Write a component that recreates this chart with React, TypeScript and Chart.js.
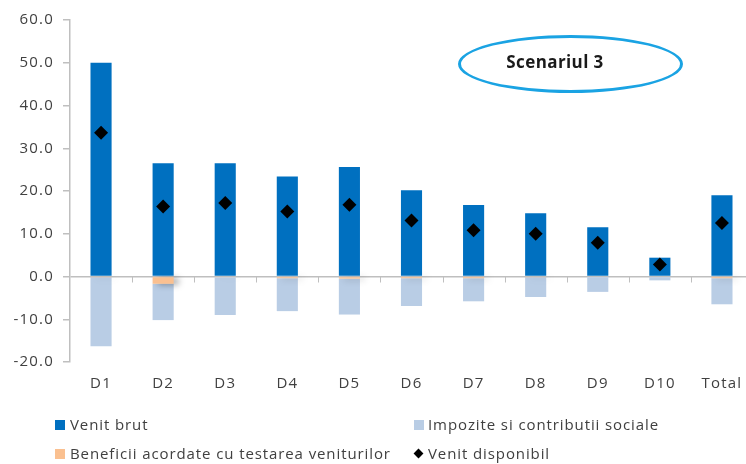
import React, { useEffect, useRef } from "react";
import { Chart, registerables } from "chart.js";

Chart.register(...registerables);

const categories = ["D1", "D2", "D3", "D4", "D5", "D6", "D7", "D8", "D9", "D10", "Total"];
const venitBrut = [50.0, 26.5, 26.5, 23.4, 25.6, 20.2, 16.7, 14.8, 11.5, 4.4, 19.0];
const beneficii = [-0.1, -1.7, -0.2, -0.4, -0.5, -0.4, -0.4, -0.1, 0, 0, -0.4];
const impozite = [-16.2, -8.5, -8.8, -7.7, -8.4, -6.5, -5.4, -4.7, -3.6, -0.9, -6.1];
const venitDisponibil = [33.6, 16.4, 17.2, 15.2, 16.8, 13.1, 10.8, 10.0, 7.9, 2.8, 12.5];
const yTicks = [60, 50, 40, 30, 20, 10, 0, -10, -20];

const AXIS = "#bfbfbf";
const TXT = "#404040";
const FONT = "'Open Sans', 'DejaVu Sans', sans-serif";

const spacingPlugin = {
  id: "spacingPlugin",
  beforeDraw(chart: any) {
    try {
      (chart.ctx as any).letterSpacing = "1.2px";
    } catch (e) {}
  },
};

const shadowPlugin = {
  id: "shadowPlugin",
  beforeDatasetDraw(chart: any, args: any) {
    if (args.index === 1) {
      const c = chart.ctx;
      c.save();
      c.shadowColor = "rgba(0,0,0,0.35)";
      c.shadowBlur = 6;
      c.shadowOffsetX = 5;
      c.shadowOffsetY = 1;
    }
  },
  afterDatasetDraw(chart: any, args: any) {
    if (args.index === 1) chart.ctx.restore();
  },
};

const catTicksPlugin = {
  id: "catTicks",
  beforeDatasetsDraw(chart: any) {
    const x = chart.scales.x;
    const y = chart.scales.y;
    const y0 = y.getPixelForValue(0);
    const c = chart.ctx;
    c.save();
    c.strokeStyle = AXIS;
    c.lineWidth = 1;
    const n = categories.length;
    const step = (x.right - x.left) / n;
    for (let i = 1; i < n; i++) {
      const px = Math.round(x.left + i * step) + 0.5;
      c.beginPath();
      c.moveTo(px, y0);
      c.lineTo(px, y0 + 6);
      c.stroke();
    }
    c.restore();
  },
};

function ChartCanvas() {
  const ref = useRef<HTMLCanvasElement | null>(null);
  useEffect(() => {
    if (!ref.current) return;
    const chart = new Chart(ref.current, {
      type: "bar",
      data: {
        labels: categories,
        datasets: [
          {
            type: "bar",
            label: "Venit brut",
            data: venitBrut,
            backgroundColor: "#0070c0",
            stack: "s",
            order: 1,
          },
          {
            type: "bar",
            label: "Beneficii acordate cu testarea veniturilor",
            data: beneficii,
            backgroundColor: "#fac090",
            stack: "s",
            order: 1,
          },
          {
            type: "bar",
            label: "Impozite si contributii sociale",
            data: impozite,
            backgroundColor: "#b9cde5",
            stack: "s",
            order: 1,
          },
          {
            type: "line",
            label: "Venit disponibil",
            data: venitDisponibil,
            showLine: false,
            pointStyle: "rectRot",
            pointRadius: 7,
            pointBackgroundColor: "#000000",
            pointBorderColor: "#000000",
            pointBorderWidth: 0,
            stack: "p",
            order: 0,
          } as any,
        ],
      },
      options: {
        responsive: false,
        animation: false,
        devicePixelRatio: 1,
        layout: { padding: { top: 20, right: 3, bottom: 72, left: 0 } },
        datasets: {
          bar: { categoryPercentage: 1, barPercentage: 0.34 },
        } as any,
        plugins: {
          legend: { display: false },
          tooltip: { enabled: false },
        },
        scales: {
          x: {
            stacked: true,
            grid: { display: false, drawTicks: false },
            border: { display: false },
            ticks: {
              padding: 13,
              color: TXT,
              font: { family: FONT, size: 15 },
              maxRotation: 0,
              autoSkip: false,
            },
            afterFit(scale: any) {
              scale.height = 30;
            },
          },
          y: {
            stacked: true,
            min: -20,
            max: 60,
            afterBuildTicks(scale: any) {
              scale.ticks = yTicks.map((v) => ({ value: v }));
            },
            grid: {
              color: (ctx: any) => (ctx.tick && ctx.tick.value === 0 ? AXIS : "rgba(0,0,0,0)"),
              lineWidth: 1.5,
              tickColor: AXIS,
              tickLength: 7,
              drawTicks: true,
            },
            border: { display: true, color: AXIS, width: 1.5 },
            ticks: {
              padding: 9,
              color: TXT,
              font: { family: FONT, size: 15 },
              callback: (v: any) => Number(v).toFixed(1),
            },
            afterFit(scale: any) {
              scale.width = 70;
            },
          },
        },
      },
      plugins: [spacingPlugin, shadowPlugin, catTicksPlugin],
    });
    return () => chart.destroy();
  }, []);
  return (
    <canvas
      ref={ref}
      width={760}
      height={464}
      style={{ position: "absolute", left: 0, top: 0, width: 760, height: 464 }}
    />
  );
}

const legendText: React.CSSProperties = {
  position: "absolute",
  fontFamily: FONT,
  fontSize: 15,
  letterSpacing: "0.9px",
  color: TXT,
  whiteSpace: "nowrap",
  lineHeight: "20px",
};

export default function App() {
  return (
    <div
      style={{
        position: "fixed",
        left: 0,
        top: 0,
        width: 746,
        height: 464,
        overflow: "hidden",
        background: "#ffffff",
      }}
    >
      <ChartCanvas />
      <div
        style={{
          position: "absolute",
          left: 458,
          top: 35,
          width: 225,
          height: 58,
          boxSizing: "border-box",
          border: "3px solid #1aa3e3",
          borderRadius: "50%",
        }}
      />
      <div
        style={{
          position: "absolute",
          left: 500,
          top: 50,
          width: 110,
          textAlign: "center",
          fontFamily: FONT,
          fontWeight: 700,
          fontSize: 17,
          letterSpacing: "0.4px",
          lineHeight: "24px",
          color: "#1a1a1a",
          whiteSpace: "nowrap",
        }}
      >
        Scenariul 3
      </div>
      {/* legend */}
      <div style={{ position: "absolute", left: 55, top: 420, width: 10, height: 10, background: "#0070c0" }} />
      <div style={{ ...legendText, left: 70, top: 414 }}>Venit brut</div>
      <div style={{ position: "absolute", left: 414, top: 420, width: 10, height: 10, background: "#b9cde5" }} />
      <div style={{ ...legendText, left: 428, top: 414 }}>Impozite si contributii sociale</div>
      <div style={{ position: "absolute", left: 55, top: 449, width: 10, height: 10, background: "#fac090" }} />
      <div style={{ ...legendText, left: 70, top: 443 }}>Beneficii acordate cu testarea veniturilor</div>
      <div
        style={{
          position: "absolute",
          left: 415,
          top: 450,
          width: 7,
          height: 7,
          background: "#000000",
          transform: "rotate(45deg)",
        }}
      />
      <div style={{ ...legendText, left: 428, top: 443 }}>Venit disponibil</div>
    </div>
  );
}
